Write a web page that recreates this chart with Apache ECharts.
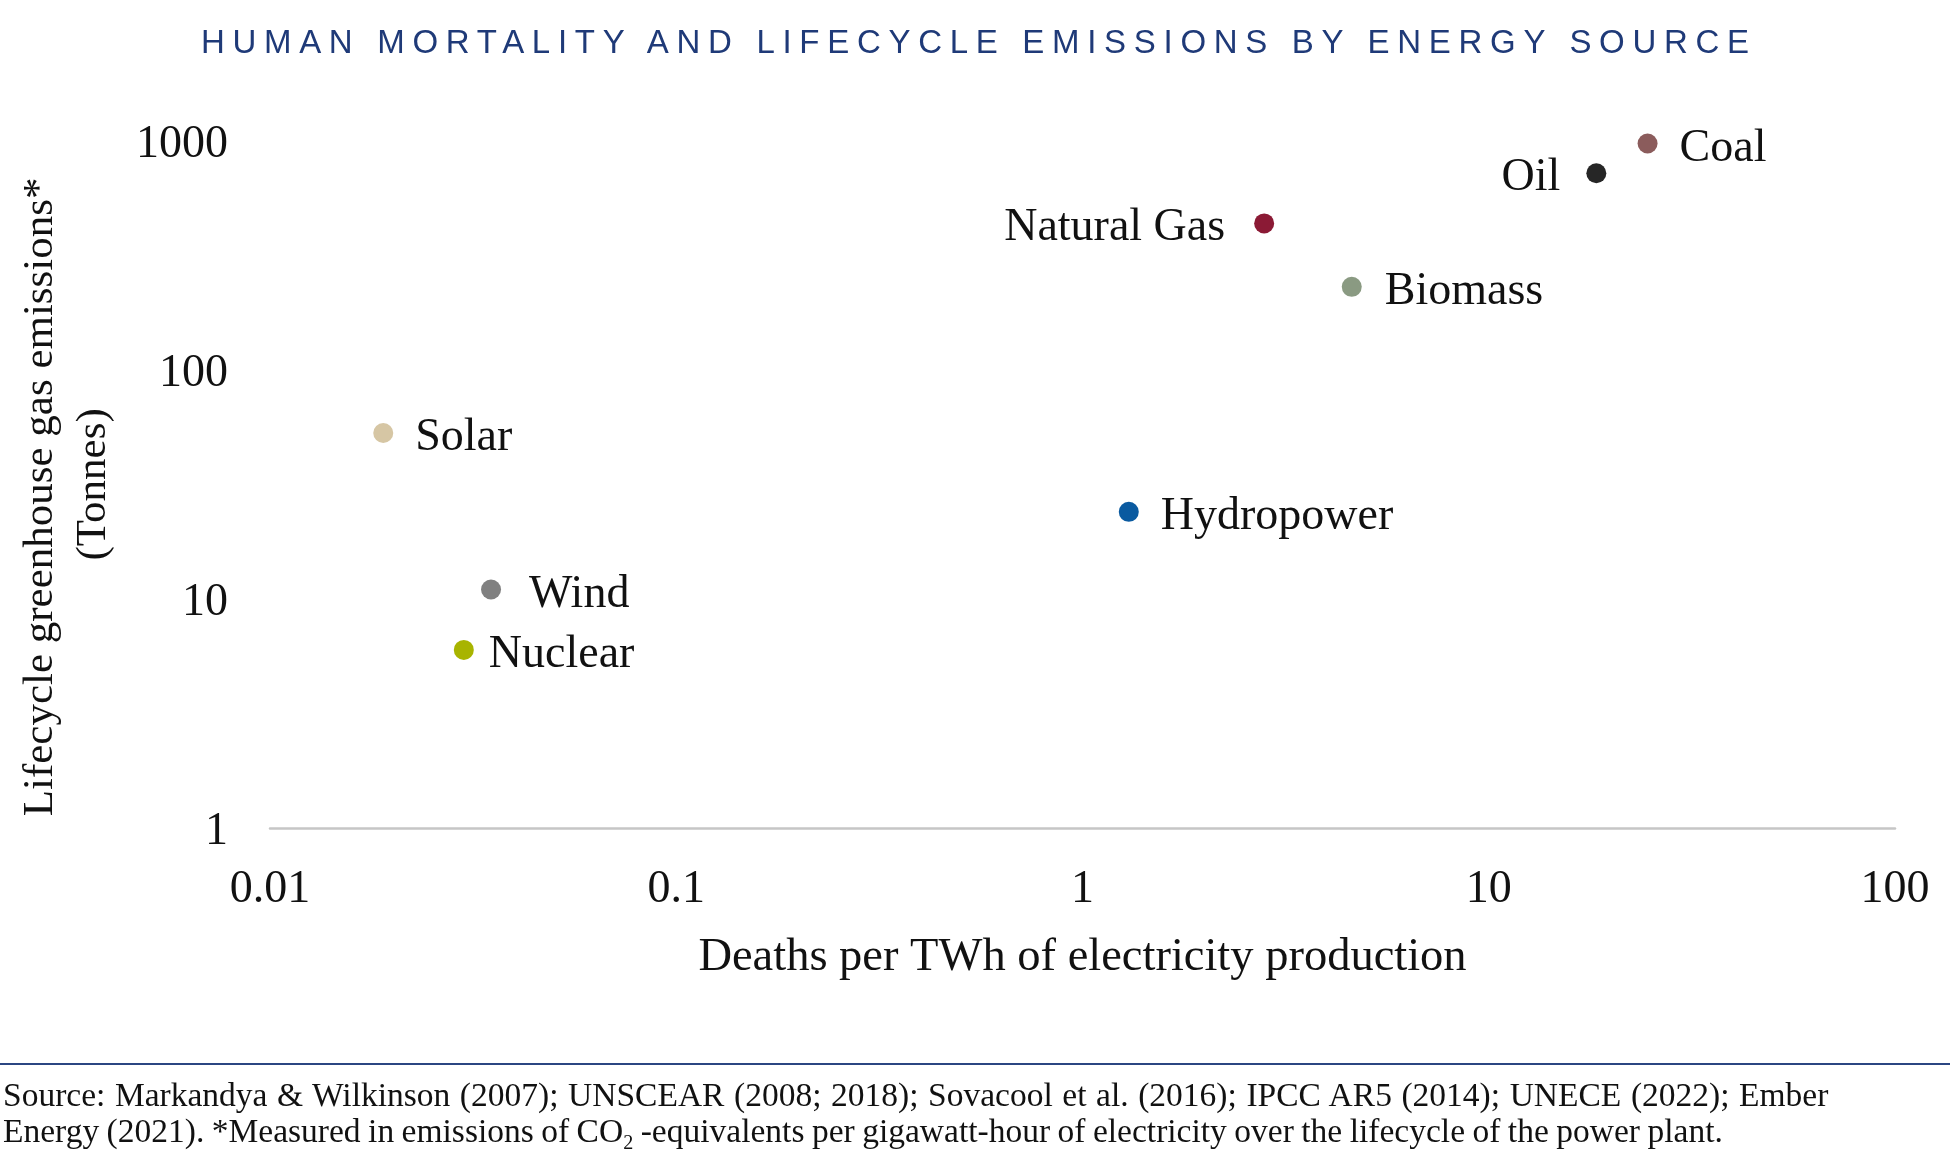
<!DOCTYPE html>
<html>
<head>
<meta charset="utf-8">
<script src="https://cdn.jsdelivr.net/npm/echarts@6/dist/echarts.min.js"></script>
<style>
html,body{margin:0;padding:0;background:#fff;}
#wrap{position:relative;width:1950px;height:1163px;overflow:hidden;background:#fff;}
#chart{position:absolute;left:0;top:0;width:1950px;height:1163px;}
#title{position:absolute;left:0;width:1950px;top:21px;text-align:center;font-family:'Liberation Sans',sans-serif;font-size:33px;letter-spacing:7.7px;padding-left:7.7px;box-sizing:border-box;color:#1f3a78;line-height:42px;white-space:nowrap;}
#rule{position:absolute;left:0;width:1950px;top:1062.5px;height:2.5px;background:#2b4682;}
#foot{position:absolute;left:3px;top:1077px;font-family:'Liberation Serif',serif;font-size:33.5px;line-height:36px;color:#111;white-space:nowrap;}
#foot .l1{display:block;word-spacing:1.2px;}
#foot .l2{display:block;word-spacing:-0.9px;}
#foot sub{font-size:0.6em;line-height:0;vertical-align:-0.35em;}
</style>
</head>
<body>
<div id="wrap">
  <div id="chart"></div>
  <div id="title">HUMAN MORTALITY AND LIFECYCLE EMISSIONS BY ENERGY SOURCE</div>
  <div id="rule"></div>
  <div id="foot"><span class="l1">Source: Markandya &amp; Wilkinson (2007); UNSCEAR (2008; 2018); Sovacool et al. (2016); IPCC AR5 (2014); UNECE (2022); Ember</span><span class="l2">Energy (2021). *Measured in emissions of CO<sub>2</sub> -equivalents per gigawatt-hour of electricity over the lifecycle of the power plant.</span></div>
</div>
<script>
// ---- data ----
const sources = ['Coal', 'Oil', 'Natural Gas', 'Biomass', 'Hydropower', 'Solar', 'Wind', 'Nuclear'];
const deathsPerTWh = [24.6, 18.4, 2.8, 4.6, 1.3, 0.019, 0.035, 0.03];
const emissionsTonnes = [970, 720, 435, 230, 24, 53, 11, 6];
const xTickValues = ['0.01', '0.1', '1', '10', '100'];
const yTickValues = ['1', '10', '100', '1000'];

// ---- styles ----
const pointColors = ['#8b5c5c', '#262626', '#8b1a35', '#8a9a82', '#0a5aa0', '#d6c6a4', '#808080', '#a8b400'];
const labelSide = ['right', 'left', 'left', 'right', 'right', 'right', 'right', 'right'];
const labelGap = [22, 26, 29, 23, 22, 22, 28, 15];

const FONT = "'Liberation Serif', 'Times New Roman', serif";
const fmt = v => String(+Number(v).toPrecision(6));

const chart = echarts.init(document.getElementById('chart'), null, {renderer: 'canvas'});
chart.setOption({
  animation: false,
  backgroundColor: 'transparent',
  grid: {left: 270, right: 55, top: 140.5, bottom: 334.7, containLabel: false},
  xAxis: {
    type: 'log', logBase: 10,
    min: Number(xTickValues[0]), max: Number(xTickValues[xTickValues.length - 1]),
    name: 'Deaths per TWh of electricity production',
    nameLocation: 'middle', nameGap: 106,
    nameTextStyle: {fontFamily: FONT, fontSize: 46.5, color: '#111'},
    axisLine: {show: true, lineStyle: {color: '#c6c6c6', width: 2.5}},
    axisTick: {show: false},
    minorTick: {show: false},
    splitLine: {show: false},
    axisLabel: {fontFamily: FONT, fontSize: 46, color: '#111', margin: 39, formatter: fmt}
  },
  yAxis: {
    type: 'log', logBase: 10,
    min: Number(yTickValues[0]), max: Number(yTickValues[yTickValues.length - 1]),
    name: '{a|Lifecycle greenhouse gas emissions*}\n{b|(Tonnes)}',
    nameLocation: 'middle', nameRotate: 90, nameGap: 150,
    nameTextStyle: {
      fontFamily: FONT, fontSize: 43, color: '#111', lineHeight: 53,
      rich: {
        a: {fontFamily: FONT, fontSize: 43, color: '#111', lineHeight: 53, padding: [0, 25, 0, 0]},
        b: {fontFamily: FONT, fontSize: 43, color: '#111', lineHeight: 53}
      }
    },
    axisLine: {show: false},
    axisTick: {show: false},
    minorTick: {show: false},
    splitLine: {show: false},
    axisLabel: {
      fontFamily: FONT, fontSize: 46, color: '#111', margin: 42,
      formatter: v => '{v|' + fmt(v) + '}',
      rich: {v: {fontFamily: FONT, fontSize: 46, color: '#111', padding: [8, 0, 0, 0]}}
    }
  },
  series: [{
    type: 'scatter',
    symbol: 'circle',
    symbolSize: 20,
    itemStyle: {opacity: 1},
    data: sources.map((s, i) => ({
      name: s,
      value: [deathsPerTWh[i], emissionsTonnes[i]],
      itemStyle: {color: pointColors[i], opacity: 1},
      label: {position: labelSide[i], distance: labelGap[i]}
    })),
    label: {show: true, formatter: '{b}', fontFamily: FONT, fontSize: 46, color: '#111', offset: [0, 5]},
    emphasis: {disabled: true}
  }]
});
</script>
</body>
</html>
